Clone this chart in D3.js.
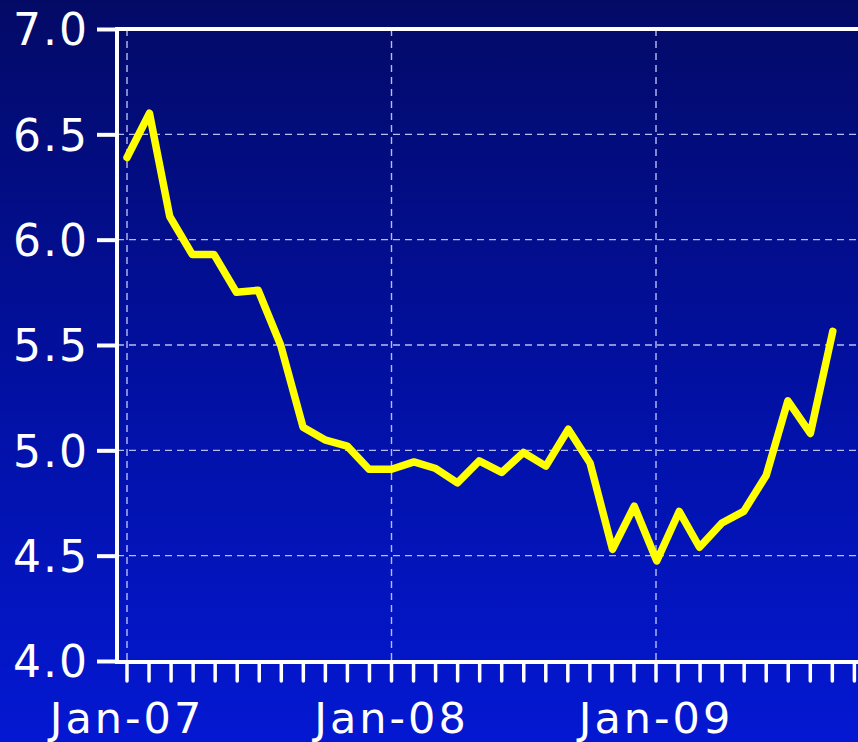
<!DOCTYPE html>
<html>
<head>
<meta charset="utf-8">
<script src="https://cdn.jsdelivr.net/npm/d3@7"></script>
<style>
  html, body { margin: 0; padding: 0; background: #030a68; }
  svg { display: block; }
</style>
</head>
<body>
<svg width="858" height="742"></svg>
<script>
// monthly values, Jan-07 .. Sep-09
const months = d3.range(33).map(i => new Date(2007, i, 1));
const values = [6.39, 6.60, 6.11, 5.93, 5.93, 5.75, 5.76, 5.50, 5.11, 5.05, 5.02, 4.91,
  4.91, 4.945, 4.915, 4.845, 4.95, 4.895, 4.99, 4.925, 5.10, 4.94, 4.53, 4.735,
  4.475, 4.71, 4.54, 4.655, 4.71, 4.88, 5.235, 5.08, 5.565];
const yTicks = [4.0, 4.5, 5.0, 5.5, 6.0, 6.5, 7.0];
const xLabels = ["Jan-07", "Jan-08", "Jan-09"];

const width = 858;
const height = 742;
const plotLeft = 117, plotTop = 29, plotBottom = 661;

const svg = d3.select("svg");

const grad = svg.append("defs").append("linearGradient")
  .attr("id", "bg").attr("x1", 0).attr("y1", 0).attr("x2", 0).attr("y2", 1);
grad.append("stop").attr("offset", "0%").attr("stop-color", "#030a66");
grad.append("stop").attr("offset", "50%").attr("stop-color", "#0210a0");
grad.append("stop").attr("offset", "100%").attr("stop-color", "#0418d2");
svg.append("rect").attr("width", width).attr("height", height).attr("fill", "url(#bg)");

// Jan-07 at 127, Jan-08 at 391.5
const x = d3.scaleTime()
  .domain([new Date(2007, 0, 1), new Date(2008, 0, 1)])
  .range([127, 391.5]);
const monthStep = (391.5 - 127) / 12;
const xi = i => 127 + i * monthStep;
const y = d3.scaleLinear().domain([4, 7]).range([plotBottom, plotTop]);

// grid
const grid = svg.append("g")
  .attr("stroke", "#b8bcf0")
  .attr("stroke-width", 1.4)
  .attr("stroke-dasharray", "7,5");
grid.selectAll(".hg").data(yTicks.filter(d => d > 4 && d < 7)).join("line")
  .attr("x1", plotLeft).attr("x2", width)
  .attr("y1", d => y(d)).attr("y2", d => y(d));
grid.selectAll(".vg").data([0, 12, 24]).join("line")
  .attr("x1", d => xi(d)).attr("x2", d => xi(d))
  .attr("y1", plotTop).attr("y2", plotBottom);

// y axis
const yAxis = svg.append("g").attr("transform", `translate(${plotLeft},0)`)
  .call(d3.axisLeft(y).tickValues(yTicks).tickFormat(d3.format(".1f")).tickSize(20).tickPadding(8));
yAxis.select(".domain").remove();
yAxis.selectAll(".tick line").attr("stroke", "#fff").attr("stroke-width", 4);
yAxis.selectAll(".tick text")
  .attr("fill", "#fff")
  .attr("font-family", "DejaVu Sans, Verdana, sans-serif")
  .attr("font-size", 44)
  .attr("letter-spacing", 2)
  .attr("dy", "0.36em");

// x axis monthly ticks
const tickIdx = d3.range(34);
svg.append("g").selectAll("line").data(tickIdx).join("line")
  .attr("x1", d => xi(d)).attr("x2", d => xi(d))
  .attr("y1", plotBottom + 2).attr("y2", plotBottom + 20)
  .attr("stroke", "#fff").attr("stroke-width", 3.5).attr("stroke-linecap", "round");

svg.append("g").selectAll("text").data(xLabels).join("text")
  .attr("x", (d, i) => xi(i * 12))
  .attr("y", 733)
  .attr("text-anchor", "middle")
  .attr("fill", "#fff")
  .attr("font-family", "DejaVu Sans, Verdana, sans-serif")
  .attr("font-size", 43)
  .attr("letter-spacing", 3)
  .text(d => d);

// frame lines
svg.append("line").attr("x1", plotLeft).attr("x2", plotLeft).attr("y1", plotTop - 2).attr("y2", plotBottom + 2)
  .attr("stroke", "#fff").attr("stroke-width", 4);
svg.append("line").attr("x1", plotLeft - 2).attr("x2", width).attr("y1", plotTop).attr("y2", plotTop)
  .attr("stroke", "#fff").attr("stroke-width", 4);
svg.append("line").attr("x1", plotLeft - 2).attr("x2", width).attr("y1", plotBottom + 1).attr("y2", plotBottom + 1)
  .attr("stroke", "#fff").attr("stroke-width", 4);

// series
const line = d3.line().x((d, i) => x(months[i])).y(d => y(d));
svg.append("path").datum(values)
  .attr("d", line)
  .attr("fill", "none")
  .attr("stroke", "#ffff00")
  .attr("stroke-width", 7.5)
  .attr("stroke-linejoin", "round")
  .attr("stroke-linecap", "round");
</script>
</body>
</html>
